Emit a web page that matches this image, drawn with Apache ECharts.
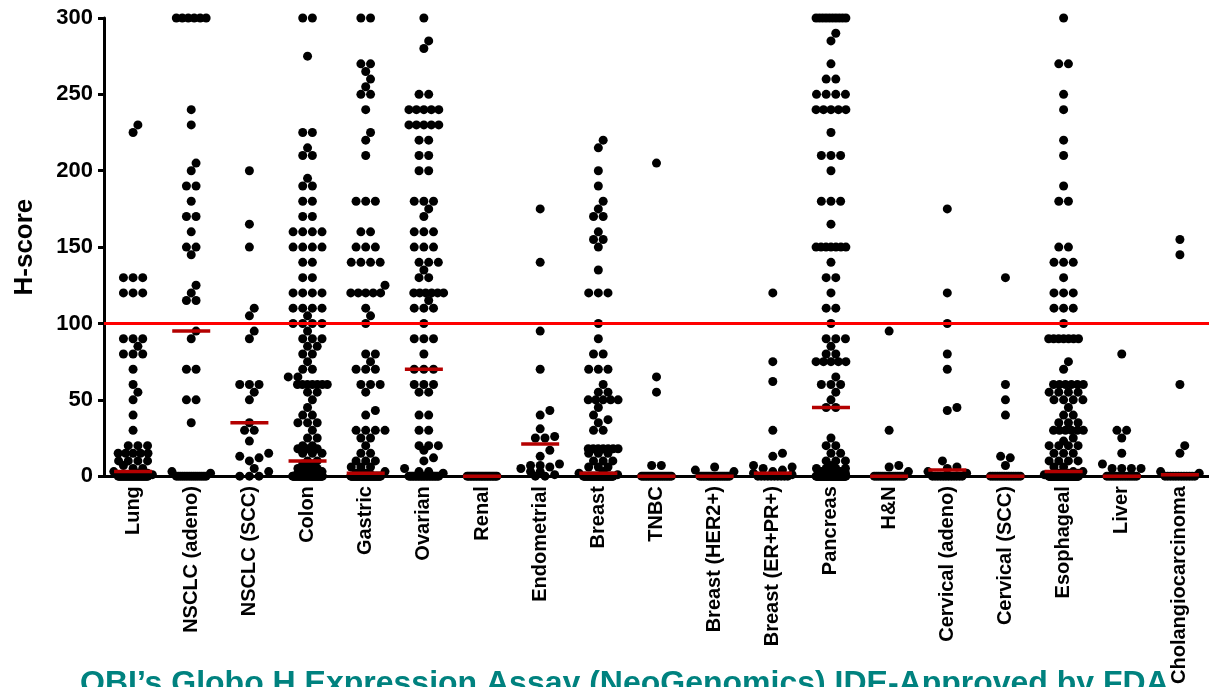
<!DOCTYPE html>
<html><head><meta charset="utf-8">
<script src="https://cdn.jsdelivr.net/npm/echarts@6/dist/echarts.min.js"></script>
<style>html,body{margin:0;padding:0;background:#fff}#c{width:1209px;height:687px}</style>
</head><body><div id="c"></div>
<script>
// ---------------- data ----------------
const categories = ['Lung','NSCLC (adeno)','NSCLC (SCC)','Colon','Gastric','Ovarian','Renal','Endometrial','Breast','TNBC','Breast (HER2+)','Breast (ER+PR+)','Pancreas','H&N','Cervical (adeno)','Cervical (SCC)','Esophageal','Liver','Cholangiocarcinoma'];

const lung = [230,225,130,130,130,120,120,120,90,90,90,85,80,80,80,70,60,55,50,40,30,20,20,20,15,15,15,15,15,10,10,10,10,7,5,5,3,2,2,1,
  0,0,0,0,0,0,0,0,0,0,0,0,0,0,0,0,0,0,0,0,0,0,0,0,0,0,0,0,0,0];
const nsclcAdeno = [300,300,300,300,300,300,240,230,205,200,190,190,180,170,170,160,150,150,145,125,120,115,115,95,90,70,70,50,50,35,3,2,
  0,0,0,0,0,0,0,0,0,0,0,0,0,0,0];
const nsclcScc = [200,165,150,110,105,95,90,60,60,60,55,50,35,30,30,23,15,13,12,10,5,3,0,0,0];
const colon = [300,300,275,225,225,215,210,210,195,190,190,180,180,170,170,160,160,160,160,150,150,150,150,140,140,130,130,
  120,120,120,120,110,110,110,110,105,100,100,100,100,95,90,90,90,85,85,80,80,75,70,70,65,65,60,60,60,60,60,60,60,55,55,50,45,40,40,
  35,35,35,30,25,25,20,20,18,18,18,15,15,15,10,10,8,8,5,5,5,3,3,3,2,2,1,1,
  0,0,0,0,0,0,0,0,0,0,0,0,0,0,0,0,0,0,0,0,0,0,0,0,0,0,0,0,0,0,0,0,0,0,0,0,0,0,0,0];
const gastric = [300,300,270,270,265,260,255,250,250,240,225,220,210,180,180,180,160,160,150,150,150,140,140,140,140,125,
  120,120,120,120,120,110,105,100,80,80,75,70,70,70,60,60,60,55,43,40,30,30,30,30,25,25,20,15,15,10,10,10,6,6,6,3,2,2,1,1,
  0,0,0,0,0,0,0,0,0,0,0,0,0,0,0,0,0,0,0,0,0,0,0,0,0,0,0,0,0,0,0,0,0,0,0,0,0,0,0,0];
const ovarian = [300,285,280,250,250,240,240,240,240,240,230,230,230,230,230,220,220,210,210,200,200,180,180,180,175,170,
  160,160,160,150,150,150,140,140,140,135,130,130,120,120,120,120,120,120,115,110,110,110,100,90,90,90,80,70,70,70,
  60,60,60,55,55,40,40,30,30,20,20,20,17,12,10,5,3,3,2,
  0,0,0,0,0,0,0,0,0,0,0,0,0,0,0,0,0,0,0,0];
const renal = [0,0,0,0,0,0,0,0,0,0,0,0,0,0,0,0,0,0,0,0];
const endometrial = [175,140,95,70,43,40,31,26,25,25,17,13,8,7,7,6,5,3,3,1,0,0];
const breast = [220,215,200,190,180,175,170,170,160,155,155,150,135,120,120,120,100,90,80,80,70,70,70,60,55,55,50,50,50,50,50,
  45,40,37,35,30,30,18,18,18,18,18,18,18,15,15,15,10,10,10,6,6,6,3,2,1,
  0,0,0,0,0,0,0,0,0,0,0,0,0,0,0,0,0,0,0,0,0,0,0,0,0,0,0,0,0,0,0,0,0,0,0];
const tnbc = [205,65,55,7,7,0,0,0,0,0,0,0,0,0,0,0,0,0,0,0,0,0,0];
const breastHer2 = [6,4,3,0,0,0,0,0,0,0,0,0,0,0,0,0,0,0,0,0,0];
const breastErPr = [120,75,62,30,15,13,7,6,5,4,3,2,1,0,0,0,0,0,0,0,0,0,0];
const pancreas = [300,300,300,300,300,300,300,300,300,300,290,285,270,260,260,250,250,250,250,240,240,240,240,240,225,210,210,210,200,
  180,180,180,165,150,150,150,150,150,150,150,140,130,130,120,110,110,100,90,90,90,85,80,80,75,75,75,75,75,65,60,60,60,55,50,45,45,
  25,20,20,15,15,10,10,10,7,5,5,5,5,3,3,3,2,2,2,
  0,0,0,0,0,0,0,0,0,0,0,0,0,0,0,0,0,0,0,0,0,0,0,0,0,0,0,0,0,0,0,0,0,0,0,0,0,0,0,0,0,0,0,0,0];
const headNeck = [95,30,7,6,3,0,0,0,0,0,0,0,0,0,0,0,0,0,0,0];
const cervicalAdeno = [175,120,100,80,70,45,43,10,6,5,3,2,0,0,0,0,0,0,0,0,0,0,0,0];
const cervicalScc = [130,60,50,40,13,12,7,0,0,0,0,0,0,0,0,0,0,0,0,0,0];
const esophageal = [300,270,270,250,240,220,210,190,180,180,150,150,140,140,140,130,120,120,120,110,110,110,100,
  90,90,90,90,90,90,90,75,70,60,60,60,60,60,60,55,55,55,55,50,50,50,50,45,40,40,35,35,35,30,30,30,30,30,30,25,23,
  20,20,20,20,15,15,15,10,10,10,10,6,6,3,3,2,2,2,1,1,
  0,0,0,0,0,0,0,0,0,0,0,0,0,0,0,0,0,0,0,0,0,0,0,0,0,0,0,0,0,0,0,0,0,0,0,0,0,0,0,0,0,0,0,0,0,0,0,0,0,0,0,0,0,0,0];
const liver = [80,30,30,25,15,8,5,5,5,5,0,0,0,0,0,0,0,0,0,0,0,0,0,0];
const cholangio = [155,145,60,20,15,3,2,0,0,0,0,0,0,0,0,0,0,0,0];

const medians = [3,95,35,10,2,70,0,21,2,0,0,2,45,0,4,0,3,0,1];
const threshold = 100;
const yTicks = [0,50,100,150,200,250,300];
const titleText = 'OBI\u2019s Globo H Expression Assay (NeoGenomics) IDE-Approved by FDA';

const groups = [lung,nsclcAdeno,nsclcScc,colon,gastric,ovarian,renal,endometrial,breast,tnbc,breastHer2,breastErPr,pancreas,headNeck,cervicalAdeno,cervicalScc,esophageal,liver,cholangio];

// ---------------- layout ----------------
const FONT = '"Liberation Sans", Arial, Helvetica, sans-serif';
const GRID = {left:104, top:18, width:1111, height:460};
const Y_MIN = yTicks[0], Y_MAX = yTicks[yTicks.length-1];
const pxPerY = GRID.height/(Y_MAX-Y_MIN);
const pxPerX = GRID.width/categories.length;
const STEP = 9.7, MAXSPAN = 30, CAP = 20, DMIN = 9;

// beeswarm-style horizontal spreading (layout only; values come from the arrays)
function swarm(values){
  const sorted = values.slice().sort((a,b)=>a-b);
  const rows = [];
  for (const v of sorted){
    if (rows.length && rows[rows.length-1].v===v) rows[rows.length-1].n++;
    else rows.push({v:v,n:1});
  }
  const placed = [];
  const out = [];
  for (const r of rows){
    const s = r.n>1 ? Math.min(STEP, MAXSPAN/(r.n-1)) : 0;
    const half = (r.n-1)*s/2;
    const yp = r.v*pxPerY;
    const cands = [0];
    for (let k=1;k*STEP/2<=CAP+0.01;k++){cands.push(k*STEP/2); cands.push(-k*STEP/2);}
    let best = 0, bestScore = -1;
    for (const c of cands){
      if (Math.abs(c)+half > Math.max(CAP, half)+0.01) continue;
      let md = Infinity;
      for (let k=0;k<r.n;k++){
        const x = c - half + k*s;
        for (const p of placed){
          const dy = Math.abs(p.y-yp);
          if (dy>=DMIN) continue;
          const d = Math.hypot(p.x-x, dy);
          if (d<md) md = d;
        }
      }
      if (md>=DMIN){best=c;break;}
      if (md>bestScore){bestScore=md;best=c;}
    }
    for (let k=0;k<r.n;k++){
      const x = best - half + k*s;
      placed.push({x:x,y:yp});
      out.push({dx:x, v:r.v});
    }
  }
  return out;
}

const points = [];
groups.forEach((vals,i)=>{
  swarm(vals).forEach(p=>points.push([i + p.dx/pxPerX, p.v]));
});

const chart = echarts.init(document.getElementById('c'), null, {renderer:'canvas'});
chart.setOption({
  animation:false,
  backgroundColor:'#fff',
  title:{text:titleText, left:75, top:663,
    textStyle:{fontSize:32, fontWeight:'bold', color:'#00827f', fontFamily:FONT}},
  grid:{left:GRID.left, top:GRID.top, width:GRID.width, height:GRID.height},
  xAxis:[
    {type:'category', data:categories, boundaryGap:true,
     axisLine:{onZero:false, lineStyle:{color:'#000', width:3}},
     axisTick:{alignWithLabel:true, length:6, lineStyle:{color:'#000', width:3}},
     axisLabel:{rotate:90, interval:0, margin:10, fontSize:20, fontWeight:'bold', color:'#000', fontFamily:FONT},
     splitLine:{show:false}},
    {type:'value', min:-0.5, max:categories.length-0.5, show:false, splitLine:{show:false}}
  ],
  yAxis:{type:'value', min:Y_MIN, max:Y_MAX, interval:50,
    name:'H-score', nameLocation:'middle', nameGap:66,
    nameTextStyle:{fontSize:26, fontWeight:'bold', color:'#000', fontFamily:FONT},
    axisLine:{show:true, onZero:false, lineStyle:{color:'#000', width:3}},
    axisTick:{show:true, length:6, lineStyle:{color:'#000', width:3}},
    axisLabel:{fontSize:22, fontWeight:'bold', color:'#000', margin:11, fontFamily:FONT},
    splitLine:{show:false}},
  series:[
    {type:'scatter', xAxisIndex:1, data:points, symbol:'circle', symbolSize:9,
     itemStyle:{color:'#000', opacity:1}, clip:false, z:2, silent:true},
    {type:'scatter', xAxisIndex:1, data:medians.map((m,i)=>[i,m]), symbol:'rect', symbolSize:[38,3.5],
     itemStyle:{color:'#b40000', opacity:1}, clip:false, z:4, silent:true,
     markLine:{silent:true, symbol:'none', label:{show:false},
       lineStyle:{color:'#ff0000', width:3, type:'solid', opacity:1}, data:[{yAxis:threshold}]}}
  ]
});
</script></body></html>
